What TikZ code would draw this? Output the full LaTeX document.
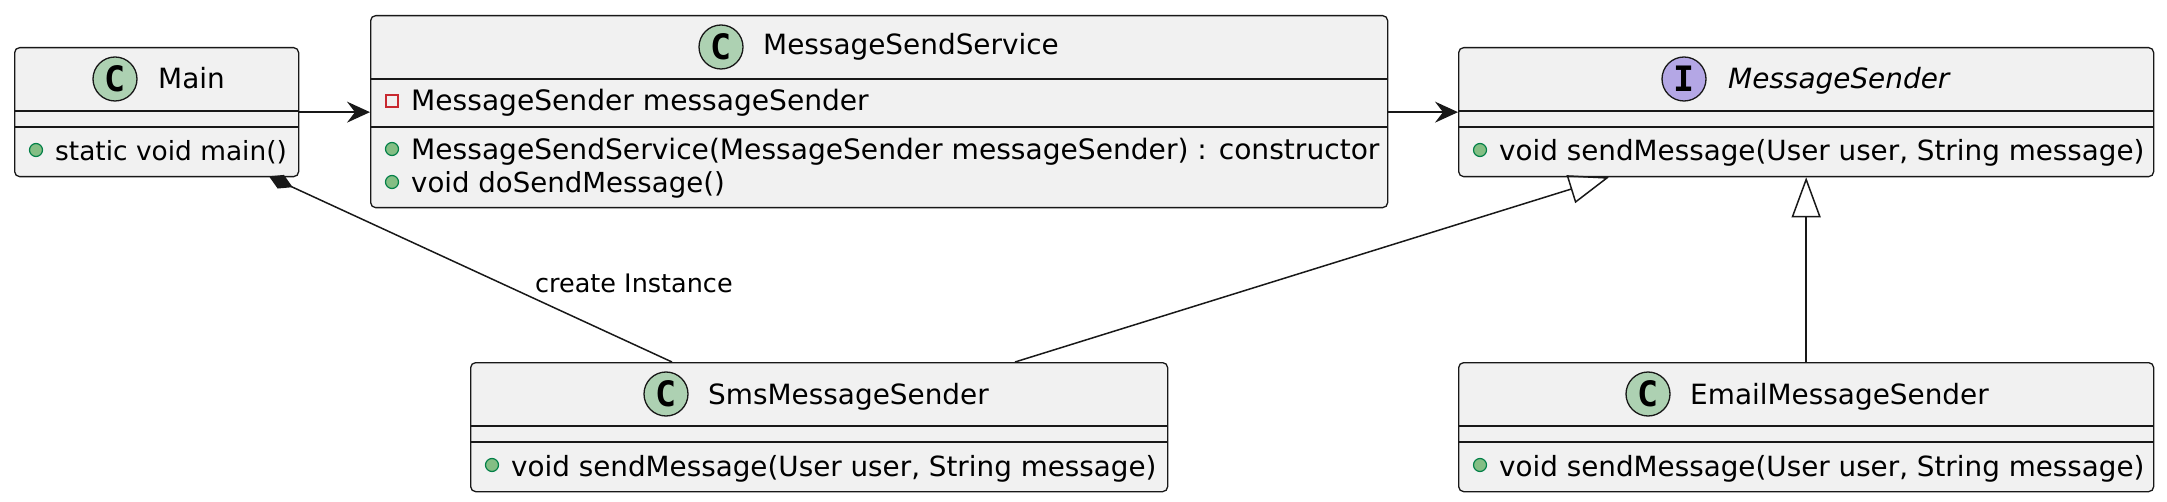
\documentclass[tikz,border=0pt]{standalone}
\usepackage{fontspec}
\setmainfont{DejaVu Sans}
\newfontfamily\spotfont{DejaVu Sans Mono}
\usetikzlibrary{arrows.meta,calc}
\definecolor{boxfill}{HTML}{F1F1F1}
\definecolor{boxline}{HTML}{181818}
\definecolor{spotC}{HTML}{ADD1B2}
\definecolor{spotI}{HTML}{B4A7E5}
\definecolor{pubfill}{HTML}{84BE84}
\definecolor{publine}{HTML}{038048}
\definecolor{privline}{HTML}{C82930}
\newcommand\clsTitle{\fontsize{27.9}{33}\selectfont}
\newcommand\clsMember{\fontsize{27.6}{33}\selectfont}
\newcommand\clsLabel{\fontsize{25.5}{30}\selectfont}
\tikzset{
  classbox/.style={draw=boxline, fill=boxfill, line width=1.3pt, rounded corners=5pt, inner sep=0pt, anchor=north west},
  sepline/.style={draw=boxline, line width=1.3pt},
  spot/.style={circle, draw=boxline, line width=1.3pt, minimum size=44pt, inner sep=0pt, font=\spotfont\bfseries\fontsize{35}{35}\selectfont},
  pub/.style={circle, draw=publine, fill=pubfill, line width=1.2pt, minimum size=13pt, inner sep=0pt},
  priv/.style={rectangle, draw=privline, line width=1.2pt, minimum size=12pt, inner sep=0pt},
  ttext/.style={anchor=base west, inner sep=0pt, font=\clsTitle},
  mtext/.style={anchor=base west, inner sep=0pt, font=\clsMember},
  assoc/.style={draw=boxline, line width=1.5pt, -{Stealth[length=23pt,width=21pt,inset=8pt]}},
  inherit/.style={draw=boxline, line width=1.5pt, -{Triangle[open,length=40pt,width=29pt]}},
  compose/.style={draw=boxline, line width=1.5pt, {Diamond[length=26pt,width=15pt]}-},
}
\begin{document}
\begin{tikzpicture}[x=1pt,y=-1pt]
\useasboundingbox (0,0) rectangle (2167,502);

% Main
\node[classbox, minimum width=284pt, minimum height=129pt] (main) at (14,47) {};
\draw[sepline] (14,111) -- (298,111);
\draw[sepline] (14,127) -- (298,127);
\node[spot, fill=spotC] (mainspot) at (115,79) {C};
\node[ttext] (maintitle) at (158,89) {Main};
\node[pub] (mainpub1) at (36,150) {};
\node[mtext, font=\fontsize{26.4}{33}\selectfont] (mainm1) at (55,161) {static void main()};

% MessageSendService
\node[classbox, minimum width=1017pt, minimum height=192pt] (mss) at (370,15) {};
\draw[sepline] (370,79) -- (1387,79);
\draw[sepline] (370,127) -- (1387,127);
\node[spot, fill=spotC] (mssspot) at (721,47) {C};
\node[ttext] (msstitle) at (763,55) {MessageSendService};
\node[priv] (msspriv) at (392,101) {};
\node[mtext, font=\fontsize{28.1}{33}\selectfont] (mssa1) at (411,111) {MessageSender messageSender};
\node[pub] (msspub1) at (392,149) {};
\node[mtext, font=\fontsize{28.1}{33}\selectfont] (mssm1) at (411,160) {MessageSendService(MessageSender messageSender) : constructor};
\node[pub] (msspub2) at (392,182) {};
\node[mtext] (mssm2) at (411,193) {void doSendMessage()};

% MessageSender (interface)
\node[classbox, minimum width=695pt, minimum height=129pt] (ms) at (1458,47) {};
\draw[sepline] (1458,111) -- (2153,111);
\draw[sepline] (1458,127) -- (2153,127);
\node[spot, fill=spotI] (msspotI) at (1684,79) {I};
\node[ttext, font=\clsTitle\itshape] (mstitle) at (1728,89) {MessageSender};
\node[pub] (mspub1) at (1480,150) {};
\node[mtext, font=\fontsize{27.8}{33}\selectfont] (msm1) at (1499,161) {void sendMessage(User user, String message)};

% SmsMessageSender
\node[classbox, minimum width=697pt, minimum height=129pt] (sms) at (470,362) {};
\draw[sepline] (470,426) -- (1167,426);
\draw[sepline] (470,442) -- (1167,442);
\node[spot, fill=spotC] (smsspot) at (666,394) {C};
\node[ttext] (smstitle) at (708,404) {SmsMessageSender};
\node[pub] (smspub1) at (492,465) {};
\node[mtext, font=\fontsize{27.8}{33}\selectfont] (smsm1) at (511,476) {void sendMessage(User user, String message)};

% EmailMessageSender
\node[classbox, minimum width=695pt, minimum height=129pt] (email) at (1458,362) {};
\draw[sepline] (1458,426) -- (2153,426);
\draw[sepline] (1458,442) -- (2153,442);
\node[spot, fill=spotC] (emailspot) at (1648,394) {C};
\node[ttext] (emailtitle) at (1690,404) {EmailMessageSender};
\node[pub] (emailpub1) at (1480,465) {};
\node[mtext, font=\fontsize{27.8}{33}\selectfont] (emailm1) at (1499,476) {void sendMessage(User user, String message)};

% connectors
\draw[assoc] (main.east) -- (main.east -| mss.west);
\draw[assoc] (mss.east |- ms.west) -- (ms.west);
\coordinate (cmpA) at ($(main.south west)+(255,-1)$);
\coordinate (cmpB) at ($(sms.north west)+(202,0)$);
\draw[compose] (cmpA) -- (cmpB);
\node[anchor=base west, inner sep=0pt, font=\clsLabel] (lbl) at (535,293) {create Instance};
\coordinate (inhA) at ($(sms.north west)+(545,0)$);
\coordinate (inhB) at ($(ms.south west)+(151,0)$);
\draw[inherit] (inhA) -- (inhB);
\draw[inherit] (email.north) -- (ms.south);
\end{tikzpicture}
\end{document}
